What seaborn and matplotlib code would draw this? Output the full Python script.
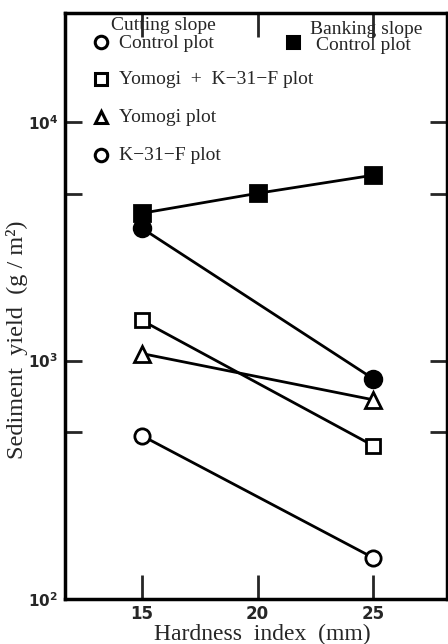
import matplotlib
matplotlib.use("Agg")
import matplotlib.pyplot as plt
from matplotlib.lines import Line2D
from matplotlib.ticker import FixedLocator, NullFormatter
import seaborn as sns
import pandas as pd

sns.set_style("white")

hardness = [15, 25]
banking_x = [15, 20, 25]
banking_control = [4150, 5030, 5990]
cutting_control = [3590, 840]
yomogi_k31f = [1473, 440]
yomogi = [1070, 685]
k31f = [484, 149]

W, H = 448, 644
fig = plt.figure(figsize=(W / 100, H / 100), dpi=100)
ax = fig.add_axes([65 / W, 1 - 599 / H, (447 - 65) / W, (599 - 13) / H])

LW = 2.0
series = [
    (banking_x, banking_control, "s", "black", 11),
    (hardness, cutting_control, "o", "black", 12),
    (hardness, yomogi_k31f, "s", "white", 10),
    (hardness, yomogi, "^", "white", 11),
    (hardness, k31f, "o", "white", 11),
]
for xs, ys, m, fc, ms in series:
    df = pd.DataFrame({"x": xs, "y": ys})
    sns.lineplot(data=df, x="x", y="y", ax=ax, color="black", lw=LW,
                 marker=m, markersize=ms, markerfacecolor=fc,
                 markeredgecolor="black", markeredgewidth=2, zorder=3)

ax.set_yscale("log")
ax.set_ylim(100, 28700)
ax.set_xlim(11.67, 28.2)

ax.set_xticks([15, 20, 25])
ax.set_xticklabels(["15", "20", "25"], fontsize=12, fontweight="bold",
                   family="DejaVu Sans")
ax.yaxis.set_major_locator(FixedLocator([100, 1000, 10000]))
ax.yaxis.set_minor_locator(FixedLocator([500, 5000]))
ax.yaxis.set_minor_formatter(NullFormatter())
ax.set_yticklabels([r"$\mathbf{10^{2}}$", r"$\mathbf{10^{3}}$", r"$\mathbf{10^{4}}$"],
                   fontsize=11)
ax.tick_params(axis="x", which="both", direction="in", length=17, width=2,
               top=True, bottom=True, pad=4)
ax.tick_params(axis="y", which="both", direction="in", length=12, width=2,
               left=True, right=True, pad=5)
for s in ax.spines.values():
    s.set_linewidth(2.5)
    s.set_color("black")

serif = "Liberation Serif"
ax.set_xlabel("Hardness  index  (mm)", fontsize=17, family=serif, va="center")
ax.set_ylabel("Sediment  yield  (g / m²)", fontsize=17.5, family=serif, va="center")
ax.xaxis.set_label_coords((262 - 65) / 382, -(634 - 599) / 586)
ax.yaxis.set_label_coords(-(65 - 17) / 382, (599 - 340) / 586)


def fx(x):
    return x / W


def fy(y):
    return 1 - y / H


fs = 14
fig.text(fx(111), fy(26), "Cutting slope", fontsize=fs, family=serif, va="center")
fig.text(fx(119), fy(43), "Control plot", fontsize=fs, family=serif, va="center")
fig.text(fx(310), fy(29), "Banking slope", fontsize=fs, family=serif, va="center")
fig.text(fx(316), fy(46), "Control plot", fontsize=fs, family=serif, va="center")
fig.text(fx(119), fy(79), "Yomogi  +  K\u221231\u2212F plot", fontsize=fs, family=serif, va="center")
fig.text(fx(119), fy(117), "Yomogi plot", fontsize=fs, family=serif, va="center")
fig.text(fx(119), fy(155), "K\u221231\u2212F plot", fontsize=fs, family=serif, va="center")

leg = [
    (101, 42, "o", "white"),
    (293, 42, "s", "black"),
    (101, 79, "s", "white"),
    (101, 117, "^", "white"),
    (101, 155, "o", "white"),
]
for x, y, m, fc in leg:
    fig.add_artist(Line2D([fx(x)], [fy(y)], marker=m, markersize=9,
                          markerfacecolor=fc, markeredgecolor="black",
                          markeredgewidth=2.2, linestyle="none",
                          transform=fig.transFigure))

fig.savefig("out.png", dpi=100)
